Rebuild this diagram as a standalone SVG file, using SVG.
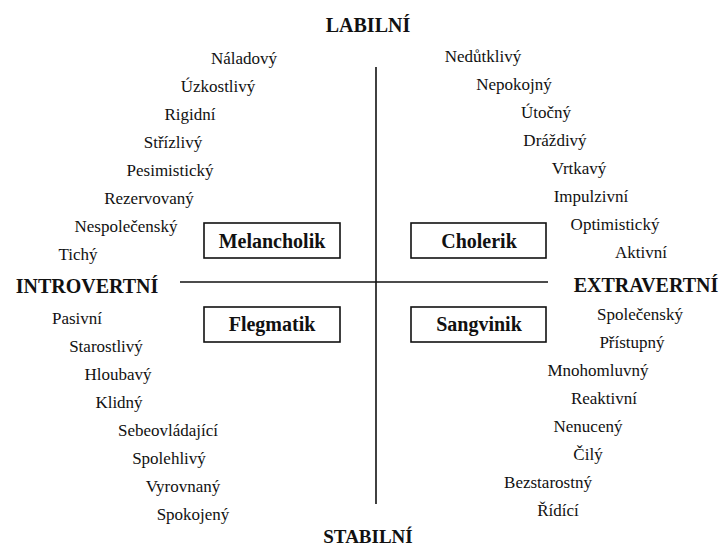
<svg xmlns="http://www.w3.org/2000/svg" width="722" height="549" viewBox="0 0 722 549">
  <style>
    text { font-family: "Liberation Serif", "Times New Roman", serif; fill: #111; }
    .axis { font-size: 20px; font-weight: bold; text-anchor: middle; }
    .w { font-size: 17px; text-anchor: middle; }
    .box { fill: #fff; stroke: #111; stroke-width: 1.6; }
    .title { font-size: 20px; font-weight: bold; text-anchor: middle; }
    .line { stroke: #111; stroke-width: 1.6; fill: none; }
  </style>
  <rect width="722" height="549" fill="#fff"/>

  <g id="connectors">
    <line class="line" x1="376" y1="67" x2="376" y2="504"/>
    <line class="line" x1="180" y1="282" x2="548" y2="282"/>
  </g>

  <g id="axis-labels">
    <text class="axis" x="368" y="32">LABILNÍ</text>
    <text class="axis" x="368" y="543" style="font-size:19px">STABILNÍ</text>
    <text class="axis" x="87" y="293">INTROVERTNÍ</text>
    <text class="axis" x="646" y="292">EXTRAVERTNÍ</text>
  </g>

  <g id="melancholik">
    <rect class="box" x="204" y="223" width="136" height="35"/>
    <text class="title" x="272" y="248">Melancholik</text>
  </g>
  <g id="cholerik">
    <rect class="box" x="411" y="223" width="135" height="35"/>
    <text class="title" x="479" y="248">Cholerik</text>
  </g>
  <g id="flegmatik">
    <rect class="box" x="204" y="307" width="136" height="35"/>
    <text class="title" x="272" y="331">Flegmatik</text>
  </g>
  <g id="sangvinik">
    <rect class="box" x="411" y="307" width="135" height="35"/>
    <text class="title" x="479" y="331">Sangvinik</text>
  </g>

  <g id="words-melancholik">
    <text class="w" x="244" y="64">Náladový</text>
    <text class="w" x="218" y="92">Úzkostlivý</text>
    <text class="w" x="190" y="120">Rigidní</text>
    <text class="w" x="173" y="148">Střízlivý</text>
    <text class="w" x="170" y="176">Pesimistický</text>
    <text class="w" x="149" y="204">Rezervovaný</text>
    <text class="w" x="126" y="232">Nespolečenský</text>
    <text class="w" x="78" y="260">Tichý</text>
  </g>

  <g id="words-cholerik">
    <text class="w" x="483" y="62">Nedůtklivý</text>
    <text class="w" x="514" y="90">Nepokojný</text>
    <text class="w" x="546" y="118">Útočný</text>
    <text class="w" x="555" y="146">Dráždivý</text>
    <text class="w" x="579" y="174">Vrtkavý</text>
    <text class="w" x="591" y="202">Impulzivní</text>
    <text class="w" x="615" y="230">Optimistický</text>
    <text class="w" x="641" y="258">Aktivní</text>
  </g>

  <g id="words-flegmatik">
    <text class="w" x="77" y="324">Pasivní</text>
    <text class="w" x="106" y="352">Starostlivý</text>
    <text class="w" x="118" y="380">Hloubavý</text>
    <text class="w" x="119" y="408">Klidný</text>
    <text class="w" x="168" y="436">Sebeovládající</text>
    <text class="w" x="169" y="464">Spolehlivý</text>
    <text class="w" x="183" y="492">Vyrovnaný</text>
    <text class="w" x="193" y="520">Spokojený</text>
  </g>

  <g id="words-sangvinik">
    <text class="w" x="640" y="320">Společenský</text>
    <text class="w" x="632" y="348">Přístupný</text>
    <text class="w" x="598" y="376">Mnohomluvný</text>
    <text class="w" x="604" y="404">Reaktivní</text>
    <text class="w" x="588" y="432">Nenucený</text>
    <text class="w" x="588" y="460">Čilý</text>
    <text class="w" x="548" y="488">Bezstarostný</text>
    <text class="w" x="558" y="516">Řídící</text>
  </g>
</svg>
